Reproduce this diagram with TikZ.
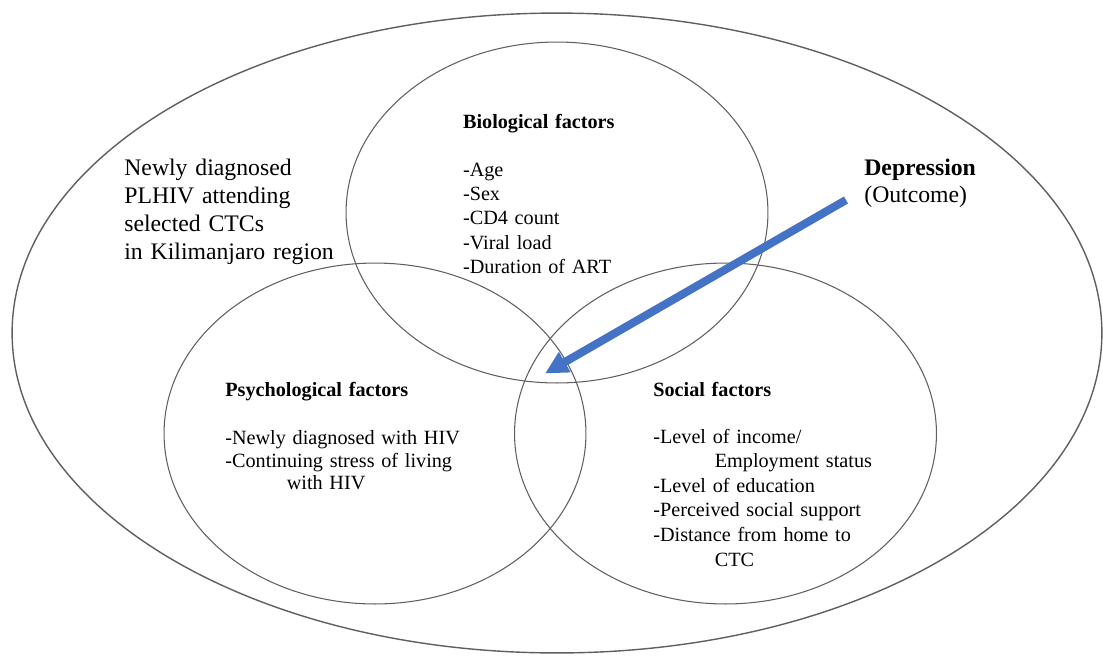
\documentclass[tikz,border=0pt]{standalone}
\usepackage{fontspec}
\setmainfont{Liberation Serif}
\usetikzlibrary{arrows.meta,shapes.geometric}
\definecolor{arrowblue}{RGB}{68,114,196}
\definecolor{rimgray}{RGB}{95,95,95}
\tikzset{
  factorset/.style={draw=rimgray, line width=0.6pt, ellipse, inner sep=0pt,
    minimum width=8.44cm, minimum height=6.82cm},
  listtext/.style={anchor=base west, inner sep=0pt, text width=6cm, align=left,
    font=\fontsize{11.5}{13.8}\selectfont},
  bigtext/.style={anchor=base west, inner sep=0pt, text width=6cm, align=left,
    font=\fontsize{13.5}{15.9}\selectfont},
  outcomearrow/.style={draw=arrowblue, line width=4.6pt,
    -{Triangle[length=13pt, width=12.5pt]}}
}
\begin{document}
\begin{tikzpicture}[x=0.02cm, y=-0.02cm]
\useasboundingbox (0,0) rectangle (1103,657);
% study population and the three factor sets
\node[factorset, line width=0.8pt, minimum width=21.8cm, minimum height=12.8cm] (pop) at (557,333) {};
\node[factorset] (bio) at (557,212.5) {};
\node[factorset] (psy) at (375,433.5) {};
\node[factorset] (soc) at (725.5,433.5) {};
% texts
\node[bigtext] (poptext) at (124,175.7)
  {Newly diagnosed\\PLHIV attending\\selected CTCs\\in Kilimanjaro region};
\node[bigtext] (dep) at (864,175)
  {\textbf{Depression}\\(Outcome)};
\node[listtext] (biotext) at (462.7,128)
  {\textbf{Biological factors}\\[13.8pt]
   -Age\\-Sex\\-CD4 count\\-Viral load\\-Duration of ART};
\node[listtext, font=\fontsize{11.5}{12.8}\selectfont] (psytext) at (225,396)
  {\textbf{Psychological factors}\\[15pt]
   -Newly diagnosed with HIV\\-Continuing stress of living\\
   \hspace*{35pt}with HIV};
\node[listtext, font=\fontsize{11.5}{14}\selectfont] (soctext) at (653,396)
  {\textbf{Social factors}\\[12.8pt]
   -Level of income/\\\hspace*{35pt}Employment status\\-Level of education\\
   -Perceived social support\\-Distance from home to\\\hspace*{35pt}CTC};
% outcome arrow into the overlap
\coordinate (arrtail) at (846,200);
\coordinate (arrtip) at (545,373.5);
\draw[outcomearrow] (arrtail) -- (arrtip);
\end{tikzpicture}
\end{document}
